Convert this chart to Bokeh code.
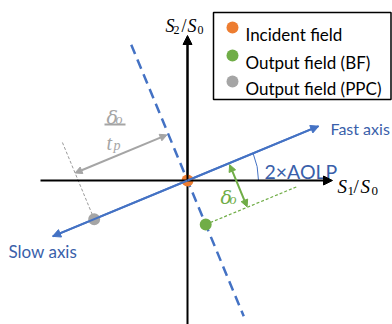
import numpy as np
from bokeh.plotting import figure
from bokeh.models import Range1d, Arrow, NormalHead
from bokeh.core.properties import value
from bokeh.embed import file_html
from bokeh.resources import INLINE

# ---- diagram values (pixel-like units, origin = incident field) ----
aolp2_deg = 22.5          # 2 x AOLP, angle of fast axis
fast_axis_len = 142
slow_axis_len = 146
perp_half_len = 147       # dashed line perpendicular to fast axis
bf_offset = 47.6          # delta_o
ppc_shift = 101           # delta_o / t_p
arc_radius = 71

legend_labels = ["Incident field", "Output field (BF)", "Output field (PPC)"]
legend_colors = ["#ED7D31", "#70AD47", "#A5A5A5"]
point_u = [0.0, 0.0, -ppc_shift]     # along fast axis
point_v = [0.0, -bf_offset, 0.0]     # perpendicular to fast axis

BLUE = "#4472C4"
BLUE_TXT = "#3A5FAA"
GREEN = "#70AD47"
GRAY = "#A5A5A5"
ORANGE = "#ED7D31"

th = np.deg2rad(aolp2_deg)
eu = np.array([np.cos(th), np.sin(th)])
ev = np.array([-np.sin(th), np.cos(th)])


def uv(u, v):
    pnt = u * eu + v * ev
    return float(pnt[0]), float(pnt[1])


p = figure(width=392, height=324, x_range=Range1d(-187, 205), y_range=Range1d(-144, 180),
           output_backend="svg", toolbar_location=None, min_border=0,
           x_axis_location=None, y_axis_location=None)
p.grid.visible = False
p.outline_line_color = None
p.background_fill_color = "white"


def arrow(x0, y0, x1, y1, color, width, size, start=False):
    kw = {}
    if start:
        kw["start"] = NormalHead(size=size, fill_color=color, line_color=color, line_width=1)
    p.add_layout(Arrow(x_start=x0, y_start=y0, x_end=x1, y_end=y1,
                       end=NormalHead(size=size, fill_color=color, line_color=color, line_width=1),
                       line_color=color, line_width=width, **kw))


def txt(x, y, s, size, color, font="Lato", style="normal", align="left", baseline="alphabetic"):
    p.text(x=[x], y=[y], text=[s], text_font=value(font), text_font_size=f"{size}px",
           text_color=color, text_font_style=style, text_align=align, text_baseline=baseline)


# Stokes axes
arrow(-147, 0, 145, 0, "black", 2, 9)
p.line([0, 0], [-150, 140], line_color="black", line_width=2)
arrow(0, 0, 0, 145, "black", 2, 9)

# perpendicular dashed line
a = uv(0, perp_half_len)
b = uv(0, -perp_half_len)
p.line([a[0], b[0]], [a[1], b[1]], line_color=BLUE, line_width=2.5, line_dash="10 6")

# fast / slow axis
f = uv(fast_axis_len, 0)
s = uv(-slow_axis_len, 0)
p.line([s[0], f[0]], [s[1], f[1]], line_color=BLUE, line_width=2)
arrow(0, 0, f[0], f[1], BLUE, 2, 8)
arrow(0, 0, s[0], s[1], BLUE, 2, 8)

# 2xAOLP arc
p.arc(x=[0], y=[0], radius=arc_radius, start_angle=0, end_angle=th, line_color=BLUE, line_width=1)

# BF construction
g0 = uv(point_u[1], point_v[1])
g1 = uv(100, point_v[1])
p.line([g0[0], g1[0]], [g0[1], g1[1]], line_color=GREEN, line_width=1.2, line_dash="3 2")
ga = uv(45, -1.5)
gb = uv(45, point_v[1] + 0.5)
arrow(ga[0], ga[1], gb[0], gb[1], GREEN, 2, 7, start=True)

# PPC construction
q0 = uv(point_u[2], 0)
q1 = uv(point_u[2], 84)
p.line([q0[0], q1[0]], [q0[1], q1[1]], line_color="#9A9A9A", line_width=1, line_dash="3 2")
qa = uv(point_u[2], 50)
qb = uv(-1.5, 50)
arrow(qa[0], qa[1], qb[0], qb[1], GRAY, 2, 7, start=True)

# points
xs, ys = zip(*[uv(u, v) for u, v in zip(point_u, point_v)])
p.scatter(x=list(xs), y=list(ys), size=12, color=legend_colors, line_color=None)

# axis texts
txt(143, 52, "Fast axis", 16, BLUE_TXT)
txt(-179, -71, "Slow axis", 17, BLUE_TXT)
txt(77, 9, "2×AOLP", 19.5, BLUE_TXT)

SERIF = "Liberation Serif"
GREEK = "DejaVu Serif"
# S2/S0
txt(-22, 155, "S", 18, "black", SERIF, "italic")
txt(-14, 151, "2", 12, "black", SERIF)
txt(-6, 155, "/", 18, "black", SERIF)
txt(0, 155, "S", 18, "black", SERIF, "italic")
txt(10, 151, "0", 12, "black", SERIF)
# S1/S0
txt(150, -6, "S", 19, "black", SERIF, "italic")
txt(160, -10, "1", 13, "black", SERIF)
txt(166, -6, "/", 19, "black", SERIF)
txt(173, -6, "S", 19, "black", SERIF, "italic")
txt(184, -10, "0", 13, "black", SERIF)
# delta_o (green)
txt(33, -16, "δ", 19, GREEN, GREEK, "italic")
txt(42, -19, "o", 14, GREEN, SERIF, "italic")
# delta_o / t_p (gray)
txt(-81, 64, "δ", 19, GRAY, GREEK, "italic")
txt(-72, 61, "o", 14, GRAY, SERIF, "italic")
p.line([-83, -62], [56, 56], line_color=GRAY, line_width=2)
txt(-81, 38, "t", 20, GRAY, SERIF, "italic")
txt(-74, 35, "p", 14, GRAY, SERIF, "italic")

# legend box
p.quad(left=26, right=203.5, top=168, bottom=81, fill_color="white", line_color="black", line_width=1.5)
ly = [153, 125, 99]
p.scatter(x=[45] * 3, y=ly, size=12, color=legend_colors, line_color=None)
for yy, lab in zip([146, 118, 92], legend_labels):
    txt(58, yy, lab, 17, "black")

open("out.html", "w").write(file_html(p, INLINE))
